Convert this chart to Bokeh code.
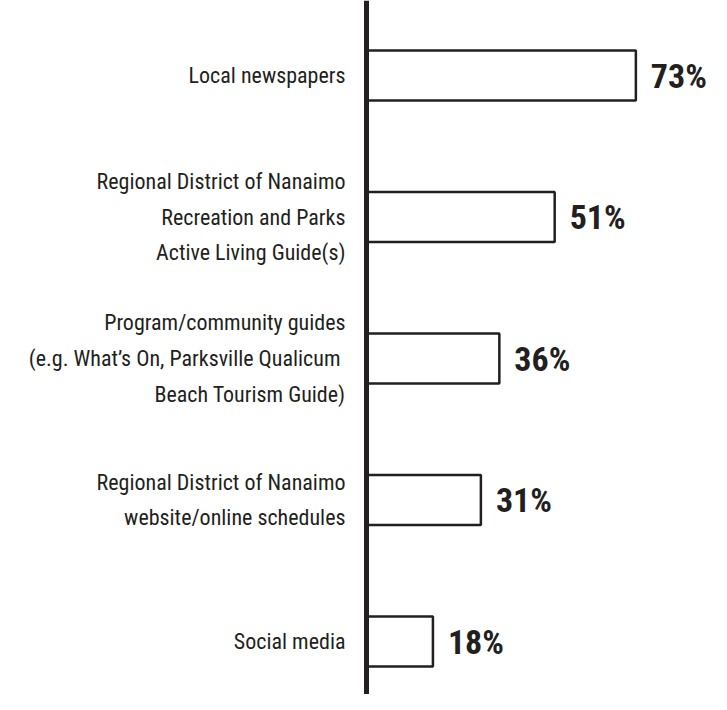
from bokeh.plotting import figure
from bokeh.models import Range1d, Span, ColumnDataSource
from bokeh.core.properties import value
from bokeh.embed import file_html
from bokeh.resources import INLINE

categories = [
    "Local newspapers",
    "Regional District of Nanaimo\nRecreation and Parks\nActive Living Guide(s)",
    "Program/community guides\n(e.g. What\u2019s On, Parksville Qualicum \nBeach Tourism Guide)",
    "Regional District of Nanaimo\nwebsite/online schedules",
    "Social media",
]
percents = [73, 51, 36, 31, 18]
pct_labels = ["73%", "51%", "36%", "31%", "18%"]

ink = "#231f20"
W, H = 711, 694
px_per_pct = 3.69
x0_px = 366
spacing = 141.5
top_c = 75
bot_c = 641

ys = list(range(len(percents)))
src = ColumnDataSource(dict(y=ys, v=percents, cat=categories, lab=pct_labels))

p = figure(width=W, height=H, output_backend="svg", toolbar_location=None,
           x_range=Range1d(-x0_px / px_per_pct, (W - x0_px) / px_per_pct),
           y_range=Range1d(4 + (H - bot_c) / spacing, -top_c / spacing),
           min_border=0, background_fill_color="white", border_fill_color="white")
p.axis.visible = False
p.grid.visible = False
p.outline_line_color = None

p.hbar(y="y", left=0, right="v", height=50 / spacing, source=src,
       fill_color="white", line_color=ink, line_width=2.5)

p.add_layout(Span(location=0, dimension="height", line_color=ink, line_width=5))

p.text(x="v", y="y", text="lab", source=src, x_offset=15,
       text_align="left", text_baseline="middle",
       text_font=value("Roboto Condensed"), text_font_style="bold",
       text_font_size="34px", text_color=ink)

p.text(x=0, y="y", text="cat", source=src, x_offset=-21,
       text_align="right", text_baseline="middle",
       text_font=value("Roboto Condensed"),
       text_font_size="22px", text_line_height=1.43, text_color=ink)

open("out.html", "w").write(file_html(p, INLINE))
